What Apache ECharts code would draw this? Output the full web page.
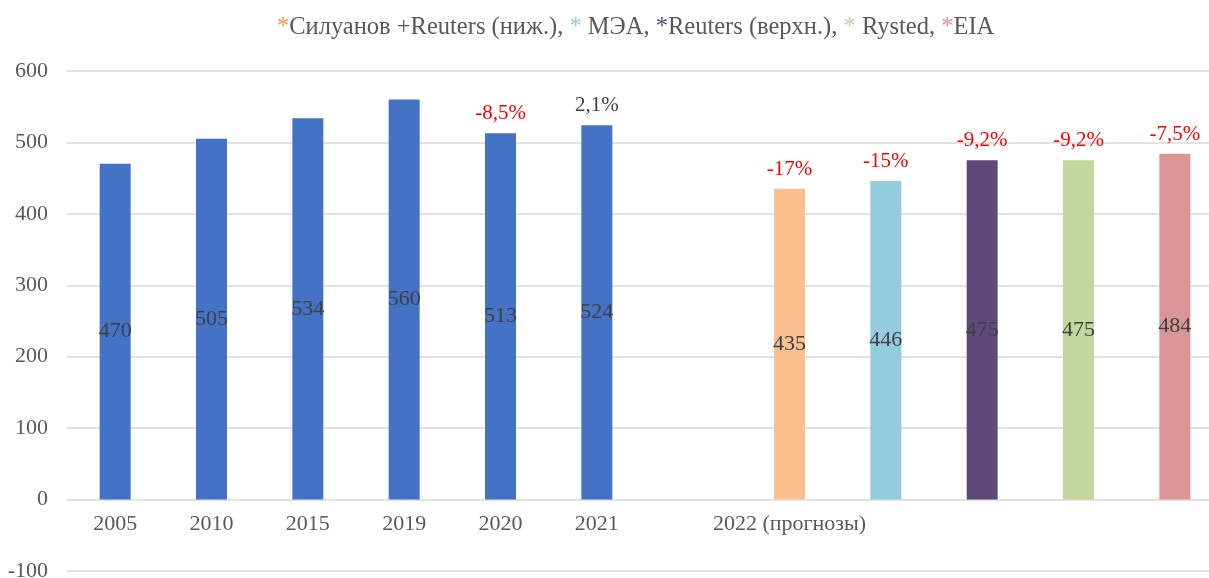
<!DOCTYPE html>
<html>
<head>
<meta charset="utf-8">
<script src="https://cdn.jsdelivr.net/npm/echarts@6/dist/echarts.min.js"></script>
<style>
  html, body { margin: 0; padding: 0; background: #fff; }
  #chart { width: 1209px; height: 578px; }
</style>
</head>
<body>
<div id="chart"></div>
<script>
// data
var categories = ['2005', '2010', '2015', '2019', '2020', '2021', '', '2022 (прогнозы)', '', '', '', ''];
var values = [470, 505, 534, 560, 513, 524, null, 435, 446, 475, 475, 484];
var changes = ['', '', '', '', '-8,5%', '2,1%', '', '-17%', '-15%', '-9,2%', '-9,2%', '-7,5%'];
var yTicks = [-100, 0, 100, 200, 300, 400, 500, 600];

// styles
var barColors = ['#4472C4', '#4472C4', '#4472C4', '#4472C4', '#4472C4', '#4472C4', '#4472C4',
    '#FAC090', '#93CDDD', '#604A7B', '#C3D69B', '#D99694'];
var changeColors = { '2,1%': '#404040' };
var font = '"Liberation Serif", "Times New Roman", serif';

var myChart = echarts.init(document.getElementById('chart'));

var option = {
    backgroundColor: '#fff',
    animation: false,
    title: {
        left: 272,
        top: 10,
        text: '{o|*}Силуанов +Reuters (ниж.), {b|*} МЭА, {p|*}Reuters (верхн.), {g|*} Rysted, {r|*}EIA',
        textStyle: {
            fontFamily: font,
            fontSize: 24.5,
            fontWeight: 'normal',
            color: '#595959',
            rich: {
                o: { color: '#F79646', fontSize: 24.5, fontFamily: font },
                b: { color: '#93CDDD', fontSize: 24.5, fontFamily: font },
                p: { color: '#604A7B', fontSize: 24.5, fontFamily: font },
                g: { color: '#C3D69B', fontSize: 24.5, fontFamily: font },
                r: { color: '#E6908F', fontSize: 24.5, fontFamily: font }
            }
        }
    },
    grid: {
        left: 67,
        right: -14,
        top: 71,
        bottom: 7,
        containLabel: false,
        outerBoundsMode: 'none'
    },
    xAxis: {
        type: 'category',
        data: categories,
        position: 'bottom',
        offset: -71.5,
        axisLine: { show: false, onZero: false },
        axisTick: { show: false },
        axisLabel: {
            interval: 0,
            margin: 14,
            color: '#595959',
            fontFamily: font,
            fontSize: 22
        }
    },
    yAxis: {
        type: 'value',
        min: yTicks[0],
        max: yTicks[yTicks.length - 1],
        interval: 100,
        axisLine: { show: false },
        axisTick: { show: false },
        splitLine: { lineStyle: { color: '#D9D9D9', width: 1.5 } },
        axisLabel: {
            margin: 19,
            color: '#595959',
            fontFamily: font,
            fontSize: 22
        }
    },
    series: [{
        type: 'bar',
        barWidth: 31,
        data: values.map(function (v, i) {
            return { value: v, itemStyle: { color: barColors[i] } };
        }),
        label: {
            show: true,
            position: 'inside',
            color: '#404040',
            fontFamily: font,
            fontSize: 22
        }
    }, {
        type: 'bar',
        barWidth: 31,
        barGap: '-100%',
        silent: true,
        data: values.map(function (v, i) {
            return {
                value: v,
                itemStyle: { color: 'rgba(0,0,0,0)' },
                label: { color: changeColors[changes[i]] || '#FF0000' }
            };
        }),
        label: {
            show: true,
            position: 'top',
            distance: 9,
            fontFamily: font,
            fontSize: 21,
            formatter: function (p) {
                return changes[p.dataIndex];
            }
        }
    }]
};

myChart.setOption(option);
</script>
</body>
</html>
